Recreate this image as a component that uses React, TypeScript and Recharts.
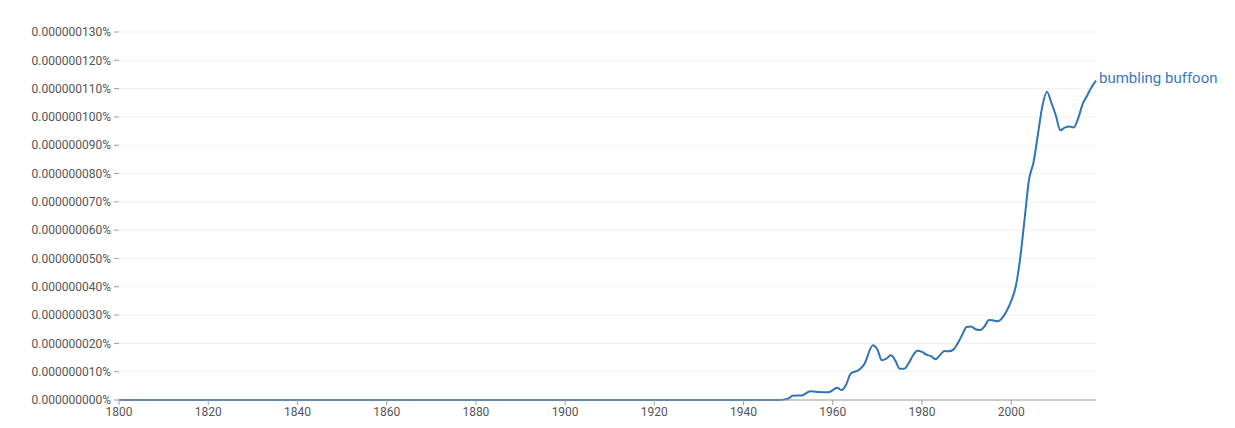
import React from "react";
import { LineChart, Line, XAxis, YAxis, CartesianGrid } from "recharts";

// values in units of 1e-9 % (so 110 => 0.000000110%)
const years = [
  1800, 1948, 1950, 1951, 1953, 1955, 1957, 1959, 1961, 1962, 1963, 1964, 1966, 1967, 1969,
  1970, 1971, 1972, 1973, 1974, 1975, 1976, 1977, 1978, 1979, 1980, 1981, 1982, 1983, 1984,
  1985, 1986, 1987, 1988, 1989, 1990, 1991, 1992, 1993, 1994, 1995, 1996, 1997, 1998, 1999,
  2000, 2001, 2002, 2003, 2004, 2005, 2006, 2007, 2008, 2009, 2010, 2011, 2012, 2013, 2014,
  2015, 2016, 2017, 2018, 2019,
];
const bumblingBuffoon = [
  0, 0, 0.5, 1.5, 1.6, 3.1, 2.8, 2.7, 4.3, 3.5, 5.5, 9.3, 10.8, 12.5, 19.3,
  17.8, 14.0, 14.6, 15.8, 14, 11, 11, 13, 15.8, 17.4, 17, 16, 15.5, 14.4, 15.8,
  17.3, 17.2, 17.8, 20, 23, 25.8, 26, 25, 24.7, 26, 28.3, 28.1, 27.8, 29, 31.5,
  35, 40, 50, 64, 78, 84, 94, 104, 108.9, 105, 100.5, 95.3, 96.2, 96.6, 96.3,
  99.5, 104.5, 107.5, 110.5, 112.8,
];
const seriesName = "bumbling buffoon";
const xTicks = [1800, 1820, 1840, 1860, 1880, 1900, 1920, 1940, 1960, 1980, 2000];
const yTicks = [0, 10, 20, 30, 40, 50, 60, 70, 80, 90, 100, 110, 120, 130];

const data = years.map((year, i) => ({ year, value: bumblingBuffoon[i] }));

const LINE_COLOR = "#2f73b8";

const EndLabel = (props: any) => {
  const { x, y, index } = props;
  if (index !== data.length - 1) return null;
  return (
    <text x={x + 3} y={y} dy={2} fill="#3a78c0" fontSize={15} fontFamily="Roboto, sans-serif">
      {seriesName}
    </text>
  );
};

export default function App() {
  return (
    <div style={{ position: "absolute", left: 0, top: 0, width: 1235, height: 428, background: "#fff" }}>
      <LineChart
        width={1235}
        height={428}
        data={data}
        margin={{ top: 32, right: 139, left: 0, bottom: 0 }}
      >
        <CartesianGrid stroke="#f0f0f0" vertical={false} />
        <XAxis
          dataKey="year"
          type="number"
          domain={[1800, 2019]}
          ticks={xTicks}
          height={28}
          stroke="#9e9e9e"
          tickSize={5}
          tickMargin={2}
          tick={{ fontSize: 12, fill: "#555", fontFamily: "Roboto, sans-serif" }}
        />
        <YAxis
          type="number"
          domain={[0, 130]}
          ticks={yTicks}
          width={119}
          axisLine={false}
          tickSize={5}
          tickMargin={3}
          stroke="#9e9e9e"
          tickFormatter={(v: number) => (v * 1e-9).toFixed(9) + "%"}
          tick={{ fontSize: 12, fill: "#555", fontFamily: "Roboto, sans-serif" }}
        />
        <Line
          dataKey="value"
          type="monotone"
          stroke={LINE_COLOR}
          strokeWidth={2}
          dot={false}
          isAnimationActive={false}
          label={<EndLabel />}
        />
      </LineChart>
    </div>
  );
}
